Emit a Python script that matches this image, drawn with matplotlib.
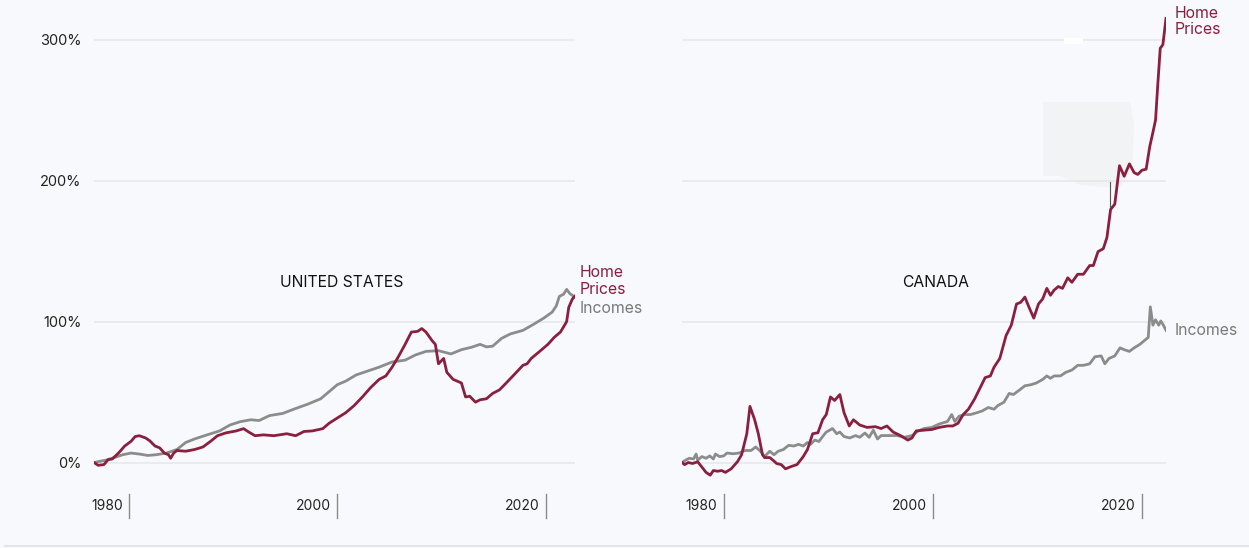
import matplotlib
matplotlib.use("Agg")
import matplotlib.pyplot as plt
from matplotlib.patches import Polygon, Rectangle
from matplotlib.lines import Line2D

# ---------------- data (percent change since start) ----------------
us_home_year = [1976.65, 1977.05, 1977.6, 1978.0, 1978.4, 1979.0, 1979.6, 1980.2, 1980.6, 1981.0,
                1981.6, 1982.0, 1982.5, 1982.95, 1983.4, 1983.8, 1984.0, 1984.3, 1984.6, 1985.45,
                1986.3, 1987.1, 1987.9, 1988.5, 1989.3, 1990.3, 1991.0, 1991.5, 1992.1, 1992.9,
                1993.9, 1995.15, 1996.0, 1996.8, 1997.6, 1998.6, 1999.2, 2000.0, 2000.8, 2001.6,
                2002.4, 2003.2, 2004.0, 2004.65, 2005.25, 2005.85, 2006.5, 2007.1, 2007.7, 2008.1,
                2008.5, 2009.1, 2009.4, 2009.7, 2010.2, 2010.5, 2011.1, 2011.5, 2011.9, 2012.3,
                2012.7, 2013.25, 2013.7, 2014.3, 2014.9, 2015.55, 2016.2, 2017.0, 2017.8, 2018.2,
                2018.6, 2019.6, 2020.2, 2020.8, 2021.4, 2021.8, 2022.0, 2022.2, 2022.55, 2022.8]
us_home = [0, -2, -1.5, 2, 2.5, 6.7, 11.7, 15, 18.4, 19,
           17.4, 15.4, 11.7, 10.4, 6.7, 5.5, 3, 6.7, 8.5, 8,
           9.2, 11, 15.4, 19, 21, 22.4, 24, 21.6, 19, 19.6,
           19, 20.4, 19, 22, 22.4, 24, 27.8, 31.6, 35.3, 40.3,
           46.5, 53.2, 58.9, 61.4, 67.6, 75, 83.8, 92.5, 93, 95,
           92.5, 86.3, 83.8, 70, 73.8, 64, 59, 57.7, 56.4, 46.5,
           47, 42.8, 44.5, 45.2, 49, 51.5, 56.4, 62.6, 68.9, 70,
           73.8, 80, 83.8, 88.7, 92.5, 97.4, 100, 110, 116, 118]

us_inc_year = [1976.65, 1977.8, 1978.6, 1979.4, 1980.2, 1981.0, 1981.8, 1982.6, 1983.6, 1984.6,
               1985.45, 1986.3, 1987.5, 1988.7, 1989.7, 1990.7, 1991.7, 1992.5, 1993.5, 1994.75,
               1996.0, 1997.2, 1998.4, 1999.6, 2000.0, 2000.8, 2001.8, 2002.8, 2004.0, 2005.25,
               2006.5, 2007.5, 2008.5, 2009.7, 2010.9, 2011.9, 2012.9, 2013.7, 2014.3, 2014.9,
               2015.75, 2016.6, 2017.8, 2018.8, 2019.8, 2020.6, 2021.0, 2021.3, 2021.7, 2022.0,
               2022.3, 2022.8]
us_inc = [0, 1.7, 3.5, 5.5, 6.7, 6, 5, 5.5, 6.7, 9.2,
          14.2, 16.7, 19.6, 22.4, 26.6, 29, 30.3, 29.8, 33.3, 34.8,
          38.3, 41.5, 45.2, 52.7, 55.2, 57.7, 62.1, 64.6, 67.6, 71.3,
          72.6, 76.3, 78.8, 79.3, 77, 80, 81.8, 83.8, 82, 82.5,
          88, 91.2, 93.7, 97.9, 102.4, 106.6, 111, 117.8, 119.3, 122.8,
          119.8, 117.3]

ca_home_year = [1976.0, 1976.25, 1976.6, 1977.0, 1977.5, 1977.9, 1978.3, 1978.7, 1979.0, 1979.4,
                1979.8, 1980.15, 1980.7, 1981.3, 1981.7, 1982.2, 1982.5, 1982.95, 1983.3, 1983.7,
                1983.9, 1984.4, 1984.8, 1985.05, 1985.5, 1985.9, 1986.5, 1987.0, 1987.6, 1988.0,
                1988.5, 1989.0, 1989.45, 1989.8, 1990.2, 1990.6, 1991.1, 1991.5, 1992.0, 1992.4,
                1993.0, 1993.7, 1994.5, 1995.05, 1995.6, 1996.2, 1996.9, 1997.6, 1998.0, 1998.4,
                1999.1, 1999.9, 2000.6, 2001.4, 2001.9, 2002.4, 2002.9, 2003.4, 2004.0, 2004.5,
                2005.0, 2005.5, 2005.85, 2006.4, 2007.0, 2007.5, 2008.0, 2008.4, 2008.8, 2009.2,
                2009.65, 2010.1, 2010.5, 2010.9, 2011.25, 2011.6, 2012.0, 2012.4, 2012.9, 2013.3,
                2013.85, 2014.4, 2015.0, 2015.35, 2015.8, 2016.3, 2016.65, 2017.0, 2017.4, 2017.85,
                2018.3, 2018.8, 2019.25, 2019.6, 2020.0, 2020.4, 2020.75, 2021.05, 2021.3, 2021.5,
                2021.75, 2022.0, 2022.3]
ca_home = [0, -1.5, 0, -0.7, 0.5, -3.2, -7, -9, -5.7, -6.2,
           -5.7, -7, -4.5, 0.5, 5.5, 20.4, 39.8, 30.3, 20.4, 5.5,
           3.5, 3.5, 1, -0.7, -1.5, -4.5, -2.7, -1.5, 4.2, 9.2,
           20.4, 21.1, 30.3, 34, 46.5, 44, 48.2, 35.3, 25.9, 30.3,
           26.6, 24.9, 25.4, 24.1, 25.9, 21.6, 19.1, 15.9, 17.4, 22.4,
           22.9, 23.4, 24.9, 25.9, 25.9, 27.8, 34, 37.8, 45.2, 52.7,
           60.2, 61.4, 67.6, 73.8, 90, 97.4, 112.4, 113.6, 117.3, 110,
           102.4, 112.4, 116, 123.5, 118.6, 122.3, 124.8, 123.5, 131, 127.8,
           133.5, 133.5, 139.7, 139.7, 149.6, 151.6, 159.6, 179.5, 183.2, 210.5,
           203, 211.8, 205.6, 204.3, 207.3, 208, 224.2, 234.2, 242.9, 266.5,
           293.8, 296.3, 315]

ca_inc_year = [1976.0, 1976.35, 1976.7, 1977.1, 1977.35, 1977.5, 1977.9, 1978.3, 1978.65, 1979.0,
               1979.2, 1979.6, 1980.0, 1980.3, 1980.9, 1981.45, 1982.0, 1982.6, 1983.05, 1983.5,
               1983.9, 1984.4, 1984.8, 1985.2, 1985.7, 1986.2, 1986.7, 1987.15, 1987.6, 1988.0,
               1988.3, 1988.7, 1989.1, 1989.45, 1989.8, 1990.4, 1990.8, 1991.1, 1991.5, 1992.05,
               1992.6, 1993.0, 1993.5, 1993.9, 1994.3, 1994.7, 1995.05, 1995.8, 1996.55, 1997.3,
               1998.0, 1998.6, 1999.15, 1999.9, 2000.6, 2001.4, 2001.8, 2002.1, 2002.5, 2003.05,
               2003.6, 2004.2, 2004.7, 2005.3, 2005.85, 2006.2, 2006.8, 2007.3, 2007.7, 2008.3,
               2008.8, 2009.4, 2009.9, 2010.5, 2010.9, 2011.25, 2011.6, 2012.2, 2012.7, 2013.3,
               2013.85, 2014.4, 2015.0, 2015.5, 2016.1, 2016.45, 2016.85, 2017.4, 2017.9, 2018.3,
               2018.8, 2019.25, 2019.8, 2020.4, 2020.6, 2020.8, 2021.05, 2021.3, 2021.6, 2021.8,
               2022.05, 2022.3]
ca_inc = [0, 1.7, 3, 2.5, 6, 1.7, 4.2, 3, 4.7, 2.5,
          6, 4.2, 4.7, 6.7, 6.2, 6.7, 8.5, 8.5, 11, 8,
          4.2, 8, 5.5, 8, 9.2, 12.2, 11.7, 12.9, 11.7, 14.2,
          12.9, 15.9, 14.9, 18.4, 21.6, 24.1, 20.4, 21.6, 18.4, 17.4,
          19.1, 17.9, 20.9, 17.9, 22.9, 16.7, 19.1, 19.1, 19.1, 17.9,
          19.1, 22.4, 24.1, 24.9, 27.3, 29.1, 34, 29.1, 32.8, 34,
          34, 35.3, 36.5, 39, 37.8, 40.3, 42.8, 49, 48.2, 51.5,
          54.4, 55.2, 56.4, 58.9, 61.4, 59.7, 61.4, 61.4, 63.9, 65.6,
          68.9, 68.9, 70, 75, 75.6, 70, 73.8, 75.6, 81.3, 80,
          78.8, 81.3, 83.8, 87.5, 88.7, 110.4, 97.4, 101.2, 97.4, 100.4,
          97.4, 93.7]

panel_titles = ["UNITED STATES", "CANADA"]
y_ticks = [0, 100, 200, 300]
y_tick_labels = ["0%", "100%", "200%", "300%"]
x_ticks = [1980, 2000, 2020]

# ---------------- style ----------------
BG = "#f8f9fc"
RED = "#8a1f3e"
GRAY = "#8c8c8c"
GRID = "#e6e7eb"
TXT = "#222222"
plt.rcParams["font.family"] = ["Inter", "DejaVu Sans"]

W, H = 1249, 548
fig = plt.figure(figsize=(W / 100, H / 100), dpi=100, facecolor=BG)

# faint artifacts of the reference image (figure pixel coords), behind everything
patch_px = [(1043, 102), (1130, 102), (1134, 125), (1132, 170), (1120, 188),
            (1080, 185), (1060, 176), (1043, 176)]
fig.patches.append(Polygon([(x / W, 1 - y / H) for x, y in patch_px], closed=True,
                           transform=fig.transFigure, facecolor="#f2f3f5",
                           edgecolor="none", zorder=-5))

PX_PER_PCT = 1.41
ZERO_Y = 462.5  # pixel from top
ylim = (-(H - ZERO_Y) / PX_PER_PCT, ZERO_Y / PX_PER_PCT)

panels = [
    dict(left=94, right=575, xlim=(us_home_year[0], us_home_year[-1]),
         home=(us_home_year, us_home), inc=(us_inc_year, us_inc),
         title=panel_titles[0], title_x=2000.4,
         lab_x=2023.28, home_y=(134.4, 123.0), inc_y=108.9, ylabels=True),
    dict(left=682, right=1166, xlim=(ca_home_year[0], ca_home_year[-1]),
         home=(ca_home_year, ca_home), inc=(ca_inc_year, ca_inc),
         title=panel_titles[1], title_x=2000.27,
         lab_x=2023.16, home_y=(318.6, 307.2), inc_y=93.3, ylabels=False),
]

for p in panels:
    ax = fig.add_axes([p["left"] / W, 0, (p["right"] - p["left"]) / W, 1])
    ax.set_facecolor("none")
    ax.set_xlim(*p["xlim"])
    ax.set_ylim(*ylim)
    for s in ax.spines.values():
        s.set_visible(False)
    ax.set_yticks(y_ticks)
    if p["ylabels"]:
        ax.set_yticklabels(y_tick_labels)
    else:
        ax.set_yticklabels([])
    ax.tick_params(axis="y", length=0, pad=9, labelsize=10.5, labelcolor=TXT)
    ax.set_xticks([])
    ax.grid(axis="y", color=GRID, lw=1.1)
    ax.set_axisbelow(True)

    ax.plot(*p["inc"], color=GRAY, lw=2.0, solid_joinstyle="round", zorder=3)
    ax.plot(*p["home"], color=RED, lw=2.0, solid_joinstyle="round", zorder=4)

    for yr in x_ticks:
        ax.plot([yr, yr], [-22.3, -39.4], color="#8a8a8a", lw=1.0, clip_on=False)
        ax.text(yr - 0.6, -30.8, str(yr), ha="right", va="center",
                fontsize=10, color=TXT)

    ax.text(p["title_x"], 128, p["title"], ha="center", va="center",
            fontsize=11.3, color="#111111")
    ax.text(p["lab_x"], p["home_y"][0], "Home", ha="left", va="center",
            fontsize=11.4, color=RED, clip_on=False)
    ax.text(p["lab_x"], p["home_y"][1], "Prices", ha="left", va="center",
            fontsize=11.4, color=RED, clip_on=False)
    ax.text(p["lab_x"], p["inc_y"], "Incomes", ha="left", va="center",
            fontsize=11.4, color="#7a7a7a", clip_on=False)

# small white break on the 300% gridline and thin dark stroke (reference artifacts)
fig.patches.append(Rectangle((1064 / W, 1 - 44 / H), 19 / W, 6 / H,
                             transform=fig.transFigure, facecolor="#ffffff",
                             edgecolor="none", zorder=5))
fig.lines.append(Line2D([1110 / W] * 2, [1 - 182 / H, 1 - 207 / H],
                        transform=fig.transFigure, color="#555555", lw=0.8, zorder=5))

# bottom border line
fig.lines.append(Line2D([5 / W, 1], [1 - 546 / H] * 2, transform=fig.transFigure,
                        color="#e4e5e9", lw=1.5))

fig.savefig("out.png", dpi=100, facecolor=BG)
